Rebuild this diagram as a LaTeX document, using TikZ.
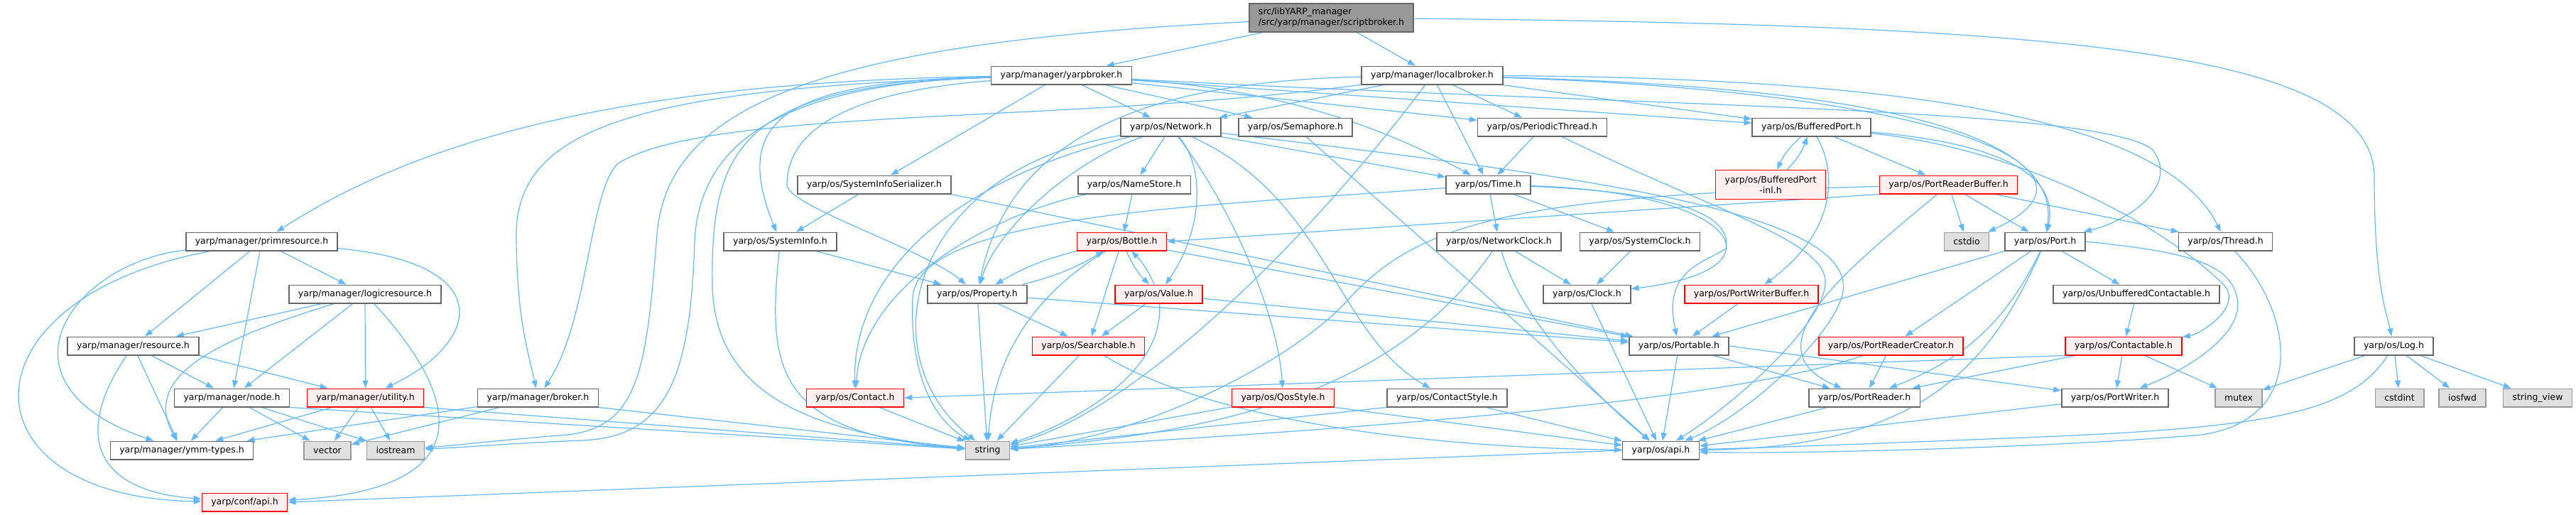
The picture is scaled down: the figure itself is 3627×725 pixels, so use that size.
\documentclass[tikz,border=0pt]{standalone}
\usepackage{fontspec}
\setmainfont{DejaVu Sans}
\usetikzlibrary{arrows.meta,backgrounds}
\definecolor{depblue}{HTML}{63B8FF}
\definecolor{framegray}{HTML}{666666}
\definecolor{sysgray}{HTML}{999999}
\definecolor{sysfill}{HTML}{E0E0E0}
\definecolor{redfill}{HTML}{FFF0F0}

\begin{document}
\begin{tikzpicture}[x=1pt, y=-1pt, font=\fontsize{12.5}{15}\selectfont,
    hdr/.style={draw=framegray, fill=white, line width=1.5pt,
                inner xsep=13pt, inner ysep=2pt, minimum height=25.5pt},
    rootbox/.style={hdr, fill=sysgray, align=left, minimum height=40pt},
    redbox/.style={hdr, draw=red, fill=redfill},
    sysbox/.style={hdr, draw=sysgray, fill=sysfill},
    dep/.style={draw=depblue, line width=1.2pt, -{Triangle[length=11pt, width=8pt]}},
    every edge/.style={dep}]
  \useasboundingbox (0,0) rectangle (3627,725);

  % --- the file and the two brokers it pulls in ---
  \node[rootbox] (sb) at (1874.5,25) {src/libYARP\_manager\\/src/yarp/manager/scriptbroker.h};
  \node[hdr] (yb) at (1494.5,106) {yarp/manager/yarpbroker.h};
  \node[hdr] (lb) at (2016.5,106) {yarp/manager/localbroker.h};

  % --- yarp/os headers, rank by rank ---
  \node[hdr] (net) at (1648.5,179) {yarp/os/Network.h};
  \node[hdr] (sem) at (1824,179) {yarp/os/Semaphore.h};
  \node[hdr] (pth) at (2171.5,179) {yarp/os/PeriodicThread.h};
  \node[hdr] (bp) at (2550.5,179) {yarp/os/BufferedPort.h};

  \node[hdr] (sis) at (1231,260) {yarp/os/SystemInfoSerializer.h};
  \node[hdr] (ns) at (1597,260) {yarp/os/NameStore.h};
  \node[hdr] (time) at (2095.5,260) {yarp/os/Time.h};
  \node[redbox, align=center, minimum height=41pt] (bpi) at (2493,260) {yarp/os/BufferedPort\\-inl.h};
  \node[redbox] (prb) at (2743.5,260) {yarp/os/PortReaderBuffer.h};

  \node[hdr] (prim) at (368.5,340) {yarp/manager/primresource.h};
  \node[hdr] (sinfo) at (1098.5,340) {yarp/os/SystemInfo.h};
  \node[redbox] (bottle) at (1579.5,340) {yarp/os/Bottle.h};
  \node[hdr] (nclk) at (2110.5,340) {yarp/os/NetworkClock.h};
  \node[hdr] (sclk) at (2309,340) {yarp/os/SystemClock.h};
  \node[sysbox] (cstdio) at (2769,340) {cstdio};
  \node[hdr] (port) at (2879.5,340) {yarp/os/Port.h};
  \node[hdr] (thread) at (3133.5,340) {yarp/os/Thread.h};

  \node[hdr] (logic) at (514,414) {yarp/manager/logicresource.h};
  \node[hdr] (prop) at (1376,414) {yarp/os/Property.h};
  \node[redbox] (value) at (1631.5,414) {yarp/os/Value.h};
  \node[hdr] (clock) at (2234.5,414) {yarp/os/Clock.h};
  \node[redbox] (pwb) at (2466,414) {yarp/os/PortWriterBuffer.h};
  \node[hdr] (ucon) at (3008,414) {yarp/os/UnbufferedContactable.h};

  \node[hdr] (res) at (187.5,487) {yarp/manager/resource.h};
  \node[redbox] (srch) at (1532.5,487) {yarp/os/Searchable.h};
  \node[hdr] (portable) at (2364,487) {yarp/os/Portable.h};
  \node[redbox] (prc) at (2662.5,487) {yarp/os/PortReaderCreator.h};
  \node[redbox] (ctbl) at (2990,487) {yarp/os/Contactable.h};
  \node[hdr] (log) at (3370.5,487) {yarp/os/Log.h};

  \node[hdr] (mnode) at (326.5,560) {yarp/manager/node.h};
  \node[redbox] (util) at (514.5,560) {yarp/manager/utility.h};
  \node[hdr] (broker) at (757.5,560) {yarp/manager/broker.h};
  \node[redbox] (contact) at (1204,560) {yarp/os/Contact.h};
  \node[redbox] (qos) at (1806.5,560) {yarp/os/QosStyle.h};
  \node[hdr] (cstyle) at (2037.5,560) {yarp/os/ContactStyle.h};
  \node[hdr] (preader) at (2625,560) {yarp/os/PortReader.h};
  \node[hdr] (pwriter) at (2978,560) {yarp/os/PortWriter.h};
  \node[sysbox] (mutex) at (3152,560) {mutex};
  \node[sysbox] (cstdint) at (3378.5,560) {cstdint};
  \node[sysbox] (iosfwd) at (3467,560) {iosfwd};
  \node[sysbox] (sview) at (3573,560) {string\_view};

  \node[hdr] (ymm) at (256,634) {yarp/manager/ymm-types.h};
  \node[sysbox] (vec) at (461,634) {vector};
  \node[sysbox] (iostr) at (557,634) {iostream};
  \node[sysbox] (str) at (1390.5,634) {string};
  \node[hdr] (osapi) at (2338.5,634) {yarp/os/api.h};
  \node[redbox] (confapi) at (344.5,707) {yarp/conf/api.h};

  \begin{scope}[on background layer]
    \fill[white] (0,0) rectangle (3627,725);
    % --- direct includes, drawn straight ---
    \path (sb) edge (yb) edge (lb);
    \path (yb) edge (net) edge (sem) edge (sis) edge (pth) edge (bp);
    \path (lb) edge (net) edge (pth) edge (time) edge (bp);
    \path (net) edge (ns) (net.south east) edge (time);
    \path (sis) edge (sinfo) (sis.south east) edge (portable);
    \path (ns) edge (bottle);
    \path (sinfo) edge (prop);
    \path (bottle) edge (srch) edge (portable);
    \path (prop) edge (srch) edge (str) edge (portable);
    \path (value) edge (srch) edge (portable);
    \path (srch) edge (str);
    \path (contact) edge (str);
    \path (qos) edge (str) (qos.south east) edge (osapi);
    \path (cstyle.south west) edge (str) (cstyle) edge (osapi);
    \path (pth) edge (time);
    \path (time) edge (nclk) edge (sclk);
    \path (nclk) edge (clock);
    \path (sclk) edge (clock);
    \path (clock) edge (osapi);
    \path (sem) edge (osapi);
    \path (bp) edge (prb);
    \path (prb) edge (cstdio) edge (port) edge (thread) (prb.south west) edge (bottle.east);
    \path (port.south west) edge (portable) (port) edge (prc) edge (ucon);
    \path (ucon) edge (ctbl);
    \path (pwb) edge (portable);
    \path (portable) edge (preader) edge (osapi) (portable.east) edge (pwriter);
    \path (prc) edge (preader);
    \path (ctbl) edge (pwriter) edge (mutex) edge (preader) (ctbl.south west) edge (contact.east);
    \path (preader) edge (osapi);
    \path (pwriter) edge (osapi);
    \path (log) edge (mutex) edge (cstdint) edge (iosfwd) edge (sview);
    \path (osapi.west) edge (confapi.east);
    % mutual includes
    \path (bottle) edge[bend right=8] (prop) (prop) edge[bend right=8] (bottle);
    \path (bottle) edge[bend right=10] (value) (value) edge[bend right=10] (bottle);
    \path (bp) edge[bend right=12] (bpi) (bpi) edge[bend right=12] (bp);

    % --- the manager headers ---
    \path (mnode) edge (ymm) edge (vec) edge (iostr) (mnode.south east) edge (str);
    \path (util) edge (ymm) edge (vec) edge (iostr) (util.south east) edge (str);
    \path (broker) edge (ymm) edge (vec) (broker.south east) edge (str);
    \path (res) edge (ymm) edge (mnode) (res.south east) edge (util);
    \path (logic) edge (res) edge (mnode) edge (util);
    \path (prim) edge (logic) edge (res) edge (mnode);
    \draw[dep] (prim) .. controls (100,370) and (-20,540) .. (ymm);
    \draw[dep] (prim) .. controls (-60,420) and (-60,700) .. (confapi);
    \draw[dep] (prim) .. controls (700,370) and (680,480) .. (util);
    \draw[dep] (res) .. controls (110,600) and (120,690) .. (confapi);
    \draw[dep] (logic) .. controls (650,560) and (680,690) .. (confapi);
    \draw[dep] (logic) .. controls (300,480) and (200,530) .. (ymm);

    % --- long detours out of the brokers ---
    \draw[dep] (sb) .. controls (2900,35) and (3343,70) .. (3343,250) .. controls (3343,400) and (3360,440) .. (log);
    \draw[dep] (sb) .. controls (1150,60) and (940,150) .. (925,330) .. controls (910,520) and (900,600) .. (800,612) .. controls (700,620) and (650,626) .. (iostr);
    \draw[dep] (yb) .. controls (1100,118) and (985,200) .. (978,340) .. controls (972,530) and (940,615) .. (820,620) .. controls (720,624) and (650,630) .. (iostr);
    \draw[dep] (yb) .. controls (900,115) and (600,190) .. (prim);
    \draw[dep] (yb) .. controls (900,125) and (727,180) .. (727,330) .. controls (727,450) and (745,500) .. (broker);
    \draw[dep] (lb) .. controls (1500,175) and (1000,150) .. (870,230) .. controls (829,270) and (829,450) .. (broker);
    \draw[dep] (yb) .. controls (1100,115) and (1030,170) .. (sinfo);
    \draw[dep] (yb) .. controls (1180,130) and (1108,190) .. (1108,260) .. controls (1108,290) and (1300,350) .. (prop);
    \draw[dep] (yb) .. controls (1050,120) and (1000,200) .. (1003,400) .. controls (1005,560) and (1150,610) .. (str);
    \draw[dep] (yb) .. controls (1800,125) and (1950,180) .. (time);
    \draw[dep] (yb) .. controls (2300,150) and (2950,150) .. (3030,210) .. controls (3070,260) and (3000,310) .. (port);
    \draw[dep] (lb) .. controls (1600,115) and (1420,200) .. (prop);
    \draw[dep] (lb) .. controls (1850,330) and (1600,580) .. (str);
    \draw[dep] (lb) .. controls (2700,125) and (2900,200) .. (port);
    \draw[dep] (lb) .. controls (2750,130) and (2990,240) .. (cstdio);
    \draw[dep] (lb) .. controls (2700,110) and (3050,170) .. (thread);

    % --- yarp/os detours ---
    \draw[dep] (net) .. controls (1700,240) and (1690,330) .. (value);
    \draw[dep] (net) .. controls (1740,300) and (1800,450) .. (qos);
    \draw[dep] (net) .. controls (1870,280) and (1880,470) .. (cstyle);
    \draw[dep] (net) .. controls (1500,230) and (1400,330) .. (prop);
    \draw[dep] (net) .. controls (1350,250) and (1200,380) .. (contact);
    \draw[dep] (net) .. controls (1280,240) and (1220,500) .. (str);
    \draw[dep] (net) .. controls (2250,250) and (2610,300) .. (2595,410) .. controls (2585,470) and (2460,585) .. (osapi);
    \draw[dep] (ns) .. controls (1400,300) and (1215,400) .. (contact);
    \draw[dep] (sinfo) .. controls (1080,520) and (1090,610) .. (str);
    \draw[dep] (bottle) .. controls (1480,400) and (1400,480) .. (str);
    \draw[dep] (value) .. controls (1640,530) and (1500,600) .. (str);
    \draw[dep] (srch) .. controls (1700,590) and (2000,630) .. (osapi);
    \draw[dep] (pth) .. controls (2420,300) and (2575,340) .. (2570,400) .. controls (2565,460) and (2440,570) .. (osapi);
    \draw[dep] (time) .. controls (1700,290) and (1290,300) .. (1285,420) .. controls (1280,550) and (1330,600) .. (str);
    \draw[dep] (time) .. controls (2450,270) and (2520,380) .. (clock);
    \draw[dep] (time) .. controls (2350,270) and (2440,300) .. (2430,350) .. controls (2400,370) and (2340,380) .. (portable);
    \draw[dep] (nclk) .. controls (2140,450) and (2250,560) .. (osapi);
    \draw[dep] (nclk) .. controls (1960,560) and (1700,610) .. (str);
    \draw[dep] (bp) .. controls (2590,250) and (2580,330) .. (pwb);
    \draw[dep] (bp) .. controls (2800,200) and (2900,240) .. (port);
    \draw[dep] (bp) .. controls (2850,210) and (3050,320) .. (3130,400) .. controls (3160,430) and (3100,470) .. (ctbl);
    \draw[dep] (prb) .. controls (2150,275) and (2000,310) .. (1900,420) .. controls (1820,510) and (1600,620) .. (str);
    \draw[dep] (prb) .. controls (2600,380) and (2460,490) .. (preader);
    \draw[dep] (prc) .. controls (2450,560) and (2000,600) .. (str);
    \draw[dep] (port) .. controls (2830,440) and (2780,500) .. (preader);
    \draw[dep] (port) .. controls (2800,520) and (2700,630) .. (osapi);
    \draw[dep] (port.east) .. controls (3080,355) and (3140,370) .. (3150,420) .. controls (3160,470) and (3080,520) .. (pwriter);
    \draw[dep] (thread) .. controls (3230,440) and (3250,590) .. (3100,612) .. controls (2900,630) and (2500,640) .. (osapi);
    \draw[dep] (log) .. controls (3310,580) and (3200,600) .. (2900,614) .. controls (2700,622) and (2500,630) .. (osapi);
  \end{scope}
\end{tikzpicture}
\end{document}
